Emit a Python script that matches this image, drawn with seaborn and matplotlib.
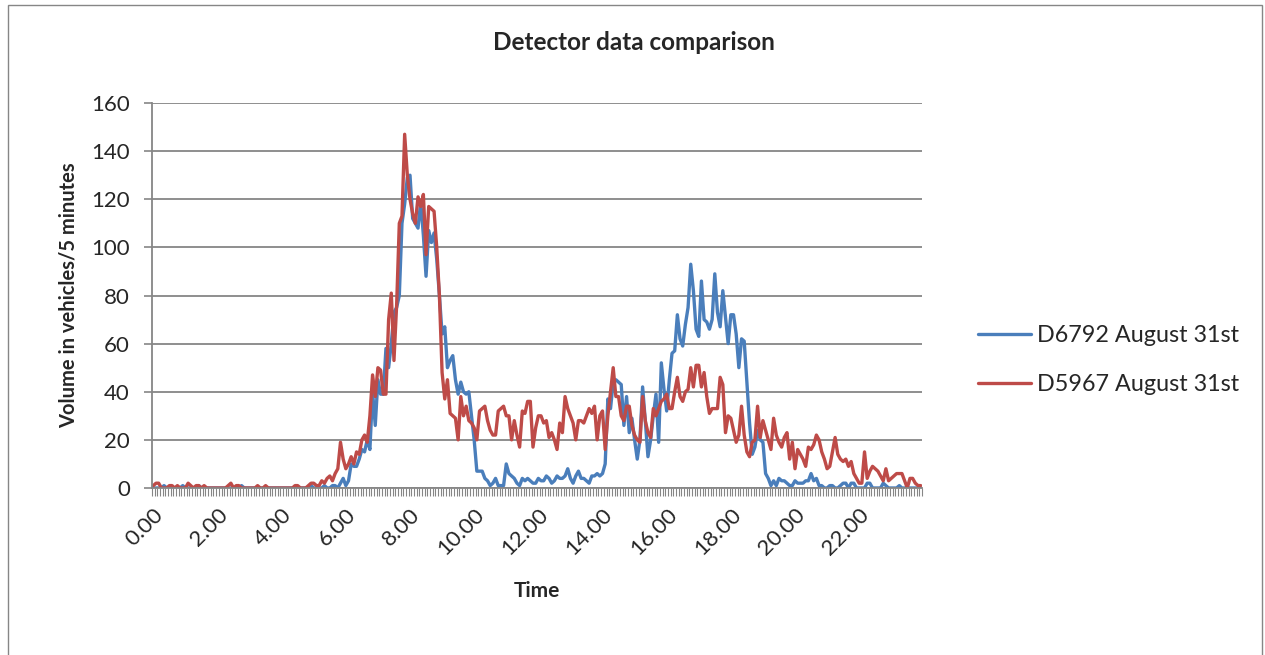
import numpy as np
import pandas as pd
import matplotlib
matplotlib.use("Agg")
import matplotlib.pyplot as plt
from matplotlib.patches import Rectangle
from matplotlib.ticker import FixedLocator
import seaborn as sns

# 5-minute volumes, one row per hour (12 values)
d6792 = [
    0, 0, 0, 0, 1, 0, 0, 0, 0, 0, 0, 1,
    0, 0, 0, 0, 0, 1, 0, 0, 0, 0, 0, 0,
    0, 0, 0, 0, 0, 0, 0, 0, 0, 1, 0, 0,
    0, 0, 0, 0, 0, 0, 0, 0, 0, 0, 0, 0,
    0, 0, 0, 0, 0, 0, 0, 0, 0, 0, 0, 1,
    0, 0, 0, 0, 1, 0, 0, 1, 1, 0, 2, 4,
    1, 3, 10, 9, 9, 12, 16, 15, 20, 16, 40, 26,
    45, 39, 39, 58, 50, 60, 73, 75, 80, 110, 118, 129,
    130, 112, 110, 108, 119, 105, 88, 107, 102, 106, 95, 80,
    64, 67, 50, 53, 55, 45, 39, 44, 40, 39, 40, 30,
    20, 7, 7, 7, 4, 3, 1, 2, 4, 1, 1, 1,
    10, 6, 5, 4, 2, 1, 4, 3, 4, 3, 2, 2,
    4, 3, 3, 5, 4, 2, 3, 5, 4, 4, 5, 8,
    4, 2, 5, 7, 4, 4, 3, 2, 5, 5, 6, 5,
    6, 10, 37, 33, 44, 45, 44, 43, 26, 38, 23, 29,
    20, 12, 20, 42, 28, 13, 20, 30, 39, 19, 52, 41,
    32, 45, 56, 57, 72, 62, 59, 68, 75, 93, 82, 66,
    63, 86, 70, 69, 66, 70, 89, 73, 67, 82, 71, 60,
    72, 72, 64, 50, 62, 61, 44, 27, 14, 17, 24, 20,
    19, 6, 4, 1, 3, 1, 4, 3, 3, 2, 1, 1,
    3, 2, 2, 2, 3, 3, 6, 3, 4, 1, 1, 0,
    0, 1, 1, 0, 0, 1, 2, 2, 0, 2, 2, 0,
    0, 0, 0, 2, 2, 0, 0, 0, 0, 2, 1, 0,
    0, 0, 0, 1, 0, 0, 0, 0, 0, 0, 0, 0,
]

d5967 = [
    1, 2, 2, 0, 0, 0, 1, 1, 0, 1, 0, 0,
    0, 2, 1, 0, 1, 1, 0, 1, 0, 0, 0, 0,
    0, 0, 0, 0, 1, 2, 0, 1, 1, 0, 0, 0,
    0, 0, 0, 1, 0, 0, 1, 0, 0, 0, 0, 0,
    0, 0, 0, 0, 0, 1, 1, 0, 0, 0, 1, 2,
    2, 1, 1, 3, 2, 4, 5, 3, 6, 8, 19, 12,
    8, 10, 13, 10, 15, 14, 20, 22, 19, 30, 47, 38,
    50, 49, 39, 39, 70, 81, 53, 76, 110, 113, 147, 130,
    120, 114, 110, 121, 117, 122, 97, 117, 116, 115, 100, 80,
    48, 37, 45, 31, 30, 29, 20, 38, 30, 34, 28, 27,
    25, 20, 32, 33, 34, 28, 24, 22, 22, 32, 33, 34,
    30, 30, 20, 28, 22, 17, 32, 31, 36, 36, 17, 25,
    30, 30, 27, 28, 21, 23, 20, 16, 27, 23, 38, 33,
    30, 27, 20, 28, 28, 27, 30, 33, 31, 34, 20, 30,
    32, 16, 30, 40, 50, 38, 38, 30, 28, 34, 34, 26,
    22, 20, 19, 38, 28, 23, 21, 33, 30, 33, 36, 37,
    39, 33, 33, 40, 46, 38, 36, 40, 41, 50, 42, 51,
    51, 42, 48, 38, 31, 33, 33, 33, 46, 43, 23, 30,
    29, 24, 19, 22, 34, 22, 15, 13, 19, 20, 34, 21,
    28, 24, 20, 16, 29, 22, 19, 17, 21, 23, 12, 19,
    8, 16, 14, 12, 9, 17, 16, 18, 22, 20, 15, 12,
    8, 9, 15, 21, 14, 12, 11, 12, 9, 11, 6, 4,
    2, 2, 15, 4, 7, 9, 8, 7, 5, 3, 8, 3,
    4, 5, 6, 6, 6, 3, 0, 4, 4, 2, 1, 1,
]

series_names = ["D6792 August 31st", "D5967 August 31st"]
tick_labels = ["0.00", "2.00", "4.00", "6.00", "8.00", "10.00",
               "12.00", "14.00", "16.00", "18.00", "20.00", "22.00"]

n = len(d6792)
df = pd.DataFrame({
    "slot": list(range(n)) * 2,
    "volume": d6792 + d5967,
    "detector": [series_names[0]] * n + [series_names[1]] * n,
})

sns.set_theme(style="white")
plt.rcParams["font.family"] = ["Lato", "DejaVu Sans"]

fig = plt.figure(figsize=(12.65, 6.55), dpi=100)
ax = fig.add_axes([152 / 1265, 1 - 488 / 655, 770 / 1265, 385 / 655])

sns.lineplot(data=df, x="slot", y="volume", hue="detector",
             palette=["#4A7EBB", "#BE4B48"], linewidth=2.4, ax=ax, legend=True)

ax.set_xlim(-0.5, n - 0.5)
ax.set_ylim(0, 160)
ax.set_yticks(range(0, 161, 20))
ax.yaxis.grid(True, color="#868686", linewidth=1.3)
ax.set_axisbelow(True)

ax.set_xticks(range(0, n, 24))
ax.set_xticklabels(tick_labels, rotation=45, ha="right", rotation_mode="anchor")
ax.xaxis.set_minor_locator(FixedLocator(np.arange(-0.5, n, 1)))
ax.tick_params(axis="x", which="major", length=0, pad=12, labelsize=16)
ax.tick_params(axis="x", which="minor", length=6, width=0.8, color="#868686",
               direction="out", bottom=True)
ax.tick_params(axis="y", which="major", length=6, width=1.2, color="#868686",
               direction="out", left=True, labelsize=16, pad=10)

for side in ["top", "right"]:
    ax.spines[side].set_visible(False)
for side in ["left", "bottom"]:
    ax.spines[side].set_color("#868686")
    ax.spines[side].set_linewidth(1.3)

ax.set_xlabel("Time", fontsize=15, fontweight="bold", labelpad=16)
ax.set_ylabel("Volume in vehicles/5 minutes", fontsize=14.5, fontweight="bold", labelpad=9)
fig.text(634 / 1265, 1 - 43 / 655, "Detector data comparison",
         fontsize=17.5, fontweight="bold", ha="center", va="center")

handles, labels = ax.get_legend_handles_labels()
ax.get_legend().remove()
fig.legend(handles, labels, loc="center left",
           bbox_to_anchor=(966 / 1265, 1 - 360 / 655), frameon=False,
           fontsize=16.8, handlelength=2.3, labelspacing=1.2, handletextpad=0.25,
           borderpad=0)

fig.patches.append(Rectangle((8 / 1265, -0.02), 1254 / 1265, 1 - 5 / 655 + 0.02,
                             transform=fig.transFigure, fill=False,
                             edgecolor="#868686", linewidth=1))

fig.savefig("out.png", dpi=100, facecolor="white")
